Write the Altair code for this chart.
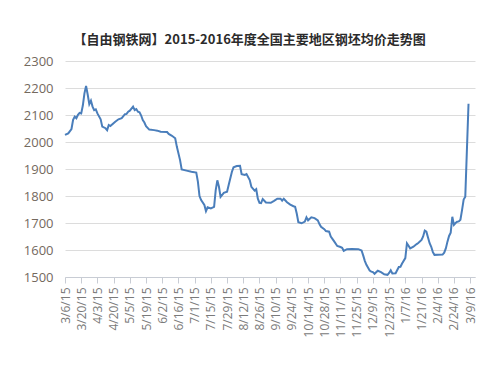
import altair as alt
import pandas as pd

# trading-day index (0 = 3/6/15, one step per trading day) and price (yuan/ton)
day_index = [0, 2, 4, 5, 6, 7, 8, 9, 10, 11, 12, 13, 14, 15, 16, 17, 18, 19, 20,
             22, 23, 25, 26, 27, 28, 31, 33, 35, 37, 38, 39, 40, 42, 43, 44, 45, 46,
             47, 48, 49, 50, 52, 55, 57, 59, 63, 64, 66, 68, 69, 71, 72, 75, 78, 81,
             82, 83, 84, 86, 87, 88, 90, 92, 93, 94, 95, 96, 98, 100, 101, 103, 104,
             106, 108, 109, 111, 112, 114, 115, 117, 118, 119, 120, 121, 122, 124,
             127, 129, 131, 133, 134, 135, 137, 139, 141, 142, 143, 144, 146, 148,
             149, 150, 152, 154, 156, 157, 158, 160, 161, 163, 164, 166, 168, 170,
             171, 172, 174, 177, 181, 183, 184, 185, 186, 188, 189, 190, 191, 193,
             195, 197, 199, 200, 201, 202, 204, 206, 207, 208, 210, 211, 212, 213,
             215, 217, 218, 220, 221, 222, 223, 224, 225, 226, 227, 228, 233, 234,
             235, 236, 237, 238, 239, 240, 241, 242, 243, 244, 245, 246, 247, 249]
price = [2026, 2032, 2048, 2082, 2094, 2088, 2101, 2108, 2106, 2135, 2180, 2208,
         2176, 2140, 2153, 2131, 2118, 2121, 2106, 2084, 2057, 2051, 2044, 2063,
         2059, 2075, 2084, 2088, 2103, 2104, 2112, 2116, 2131, 2118, 2122, 2112,
         2110, 2098, 2081, 2072, 2059, 2046, 2044, 2042, 2038, 2037, 2030, 2023,
         2014, 1983, 1933, 1898, 1894, 1890, 1887, 1853, 1800, 1785, 1767, 1744,
         1758, 1754, 1760, 1822, 1858, 1834, 1797, 1812, 1816, 1841, 1890, 1906,
         1911, 1912, 1881, 1878, 1881, 1859, 1834, 1820, 1825, 1790, 1775, 1774,
         1789, 1776, 1775, 1782, 1790, 1790, 1783, 1790, 1777, 1768, 1762, 1760,
         1735, 1703, 1699, 1705, 1721, 1710, 1721, 1718, 1710, 1696, 1686, 1677,
         1670, 1668, 1650, 1633, 1615, 1611, 1608, 1597, 1603, 1604, 1603, 1598,
         1580, 1560, 1545, 1524, 1520, 1518, 1512, 1523, 1518, 1510, 1508, 1515,
         1525, 1513, 1514, 1537, 1538, 1550, 1570, 1625, 1616, 1606, 1612, 1622,
         1626, 1637, 1650, 1672, 1668, 1646, 1625, 1612, 1592, 1582, 1583, 1590,
         1606, 1631, 1652, 1664, 1723, 1693, 1700, 1705, 1706, 1712, 1748, 1787,
         1797, 2142]

tick_labels = ["3/6/15", "3/20/15", "4/3/15", "4/20/15", "5/5/15", "5/19/15",
               "6/2/15", "6/16/15", "7/1/15", "7/15/15", "7/29/15", "8/12/15",
               "8/26/15", "9/10/15", "9/24/15", "10/14/15", "10/28/15",
               "11/11/15", "11/25/15", "12/9/15", "12/23/15", "1/7/16",
               "1/21/16", "2/4/16", "2/24/16", "3/9/16"]
tick_positions = [i * 10 for i in range(len(tick_labels))]

df = pd.DataFrame({"day": day_index, "price": price})

label_array = "[" + ",".join("'" + t + "'" for t in tick_labels) + "]"

chart = alt.Chart(df).mark_line(color="#4a7ebb", strokeWidth=2).encode(
    x=alt.X("day:Q",
            scale=alt.Scale(domain=[0, 253], nice=False, zero=False),
            axis=alt.Axis(values=tick_positions,
                          labelExpr=label_array + "[round(datum.value/10)]",
                          labelAngle=270, labelFontSize=12, labelColor="#7a7a7a",
                          labelFont="Open Sans", labelPadding=4,
                          grid=False, domainColor="#c8ccd4", tickColor="#c8ccd4",
                          tickSize=6, title=None, labelOverlap=False)),
    y=alt.Y("price:Q",
            scale=alt.Scale(domain=[1500, 2300], nice=False, zero=False),
            axis=alt.Axis(values=list(range(1500, 2301, 100)), format="d",
                          labelFontSize=13, labelColor="#74695e",
                          labelFont="Open Sans", labelPadding=12,
                          grid=True, gridColor="#dcdcdc", domain=False,
                          ticks=False, title=None)),
).properties(
    width=410,
    height=216,
    autosize=alt.AutoSizeParams(type="none"),
    padding={"left": 57, "top": 53, "right": 10, "bottom": 90},
    title=alt.TitleParams(
        text="【自由钢铁网】2015-2016年度全国主要地区钢坯均价走势图",
        font="Noto Sans CJK SC", fontSize=13, fontWeight="bold",
        color="#2b2b2b", anchor="middle", frame="bounds", offset=8),
).configure_view(stroke=None)

chart.save("out.html", embed_options={"renderer": "svg", "actions": False})
